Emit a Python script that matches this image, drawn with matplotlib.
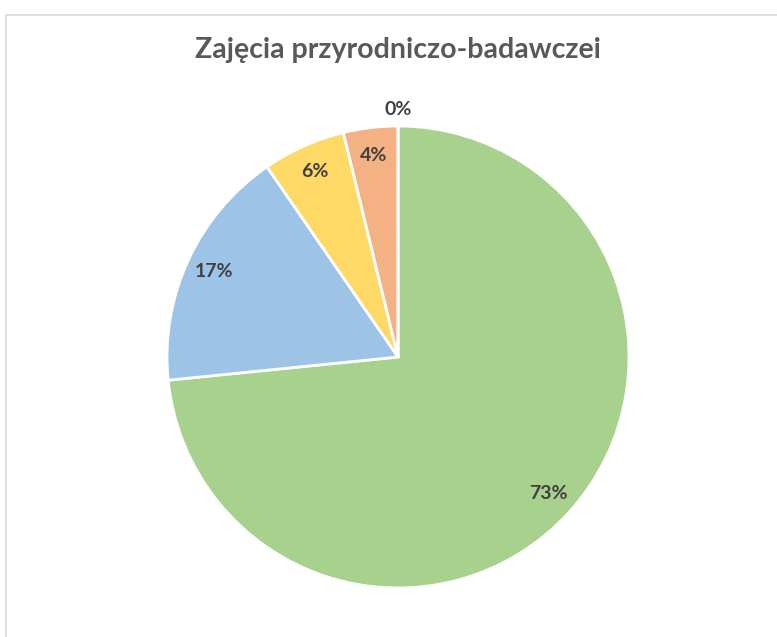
import matplotlib
matplotlib.use("Agg")
import matplotlib.pyplot as plt
import matplotlib.patches as patches

# data (clockwise from 12 o'clock)
categories = ["A", "B", "C", "D", "E"]
shares = [73.4, 17.0, 5.8, 3.8, 0.0]
colors = ["#A9D18E", "#9DC3E6", "#FFD966", "#F4B183", "#C9C9C9"]
title = "Zajęcia przyrodniczo-badawczei"

W, H = 777, 637
fig = plt.figure(figsize=(W / 100, H / 100), dpi=100)
ax = fig.add_axes([0, 0, 1, 1])

# chart area border (runs off the right and bottom edges)
ax.add_patch(patches.Rectangle((5.5, -20), 900, H - 14 - 0.5 + 20,
                               fill=False, edgecolor="#D9D9D9", linewidth=1.2))

cx, cy, r = 398, H - 357, 231
wedges, texts, autotexts = ax.pie(
    shares, colors=colors, startangle=90, counterclock=False,
    center=(cx, cy), radius=r, frame=True,
    autopct=lambda p: "%.0f%%" % p, pctdistance=0.88,
    wedgeprops=dict(edgecolor="white", linewidth=2),
    textprops=dict(fontsize=14, fontweight="bold", color="#404040",
                   family="Lato"))
ax.set_xlim(0, W)
ax.set_ylim(0, H)
ax.set_aspect("equal")
ax.axis("off")

# the empty slice label sits outside the pie
x, y = autotexts[-1].get_position()
autotexts[-1].set_position((cx + (x - cx) / 0.88 * 1.07, cy + (y - cy) / 0.88 * 1.07))

ax.text(398, H - 58, title, ha="center", va="baseline", fontsize=20.5,
        fontweight="bold", color="#595959", family="Lato")

fig.savefig("out.png", dpi=100)
